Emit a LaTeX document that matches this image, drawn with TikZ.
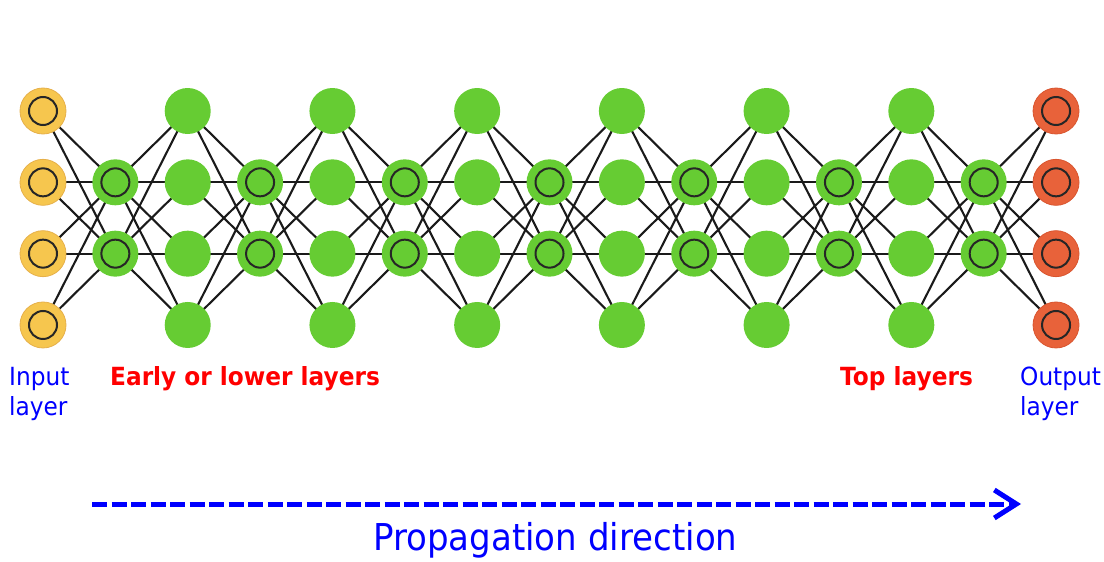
\documentclass[tikz,border=0pt]{standalone}
\usepackage{fontspec}
\setmainfont{DejaVu Sans}[FakeStretch=0.93]
\newfontfamily\propfont{DejaVu Sans}[FakeStretch=0.92]
\usetikzlibrary{arrows.meta,backgrounds}
\definecolor{inyellow}{HTML}{F6C64E}
\definecolor{inyellowd}{HTML}{E6B04A}
\definecolor{nngreen}{HTML}{66CC33}
\definecolor{outorange}{HTML}{E8623A}
\definecolor{outorange2}{HTML}{D9552F}
\definecolor{edgegray}{HTML}{1A1A1A}
\tikzset{
  x=1pt, y=-1pt,
  neuron/.style={circle, inner sep=0pt, minimum size=46pt},
  ringed/.style={path picture={\draw[line width=2pt, black!85] (path picture bounding box.center) circle (14pt);}},
  innode/.style={neuron, fill=inyellow, draw=inyellowd, line width=0.8pt, ringed},
  outnode/.style={neuron, fill=outorange, draw=outorange2, line width=0.8pt, ringed},
  ringnode/.style={neuron, fill=nngreen, ringed},
  plainnode/.style={neuron, fill=nngreen},
  link/.style={draw=edgegray, line width=2.1pt},
  bluelabel/.style={text=blue, font=\fontsize{25}{30}\selectfont, inner sep=0pt, align=left},
  redlabel/.style={text=red, font=\fontsize{25}{30}\selectfont\bfseries, inner sep=0pt},
  proplabel/.style={text=blue, font=\propfont\fontsize{37}{44}\selectfont, inner sep=0pt},
  proparrow/.style={draw=blue, line width=5pt, dash pattern=on 15pt off 4.5pt,
    -{Straight Barb[length=22pt,width=28pt,line width=5pt]}}
}
\begin{document}
\begin{tikzpicture}
\useasboundingbox (0,0) rectangle (1104,562);
% nodes
\foreach \i in {0,...,14}{
  \pgfmathsetmacro{\xx}{43+72.36*\i}
  \ifodd\i
    \foreach \r in {1,2}{
      \node[ringnode] (c\i-\r) at (\xx,{111+71.33*\r}) {};
    }
  \else
    \ifnum\i=0
      \foreach \r in {0,...,3}{\node[innode] (c\i-\r) at (\xx,{111+71.33*\r}) {};}
    \else\ifnum\i=14
      \foreach \r in {0,...,3}{\node[outnode] (c\i-\r) at (\xx,{111+71.33*\r}) {};}
    \else
      \foreach \r in {0,...,3}{\node[plainnode] (c\i-\r) at (\xx,{111+71.33*\r}) {};}
    \fi\fi
  \fi
}
% connections
\begin{scope}[on background layer]
\foreach \i in {1,3,...,13}{
  \pgfmathtruncatemacro{\p}{\i-1}
  \pgfmathtruncatemacro{\n}{\i+1}
  \foreach \a in {1,2}{
    \foreach \b in {0,...,3}{
      \draw[link] (c\p-\b.center) -- (c\i-\a.center);
      \draw[link] (c\i-\a.center) -- (c\n-\b.center);
    }
  }
}
\end{scope}
% labels
\node[bluelabel, anchor=base west] (inlab) at (9,415) {Input\\layer};
\node[redlabel, anchor=base west] (earlylab) at (110,385) {Early or lower layers};
\node[redlabel, anchor=base west] (toplab) at (840,385) {Top layers};
\node[bluelabel, anchor=base west] (outlab) at (1020,415) {Output\\layer};
% propagation arrow
\coordinate (pstart) at (92,504);
\coordinate (pend) at (1021,504);
\draw[proparrow] (pstart) -- (pend);
\node[proplabel, anchor=base west] (proplab) at (373,550) {Propagation direction};
\end{tikzpicture}
\end{document}
